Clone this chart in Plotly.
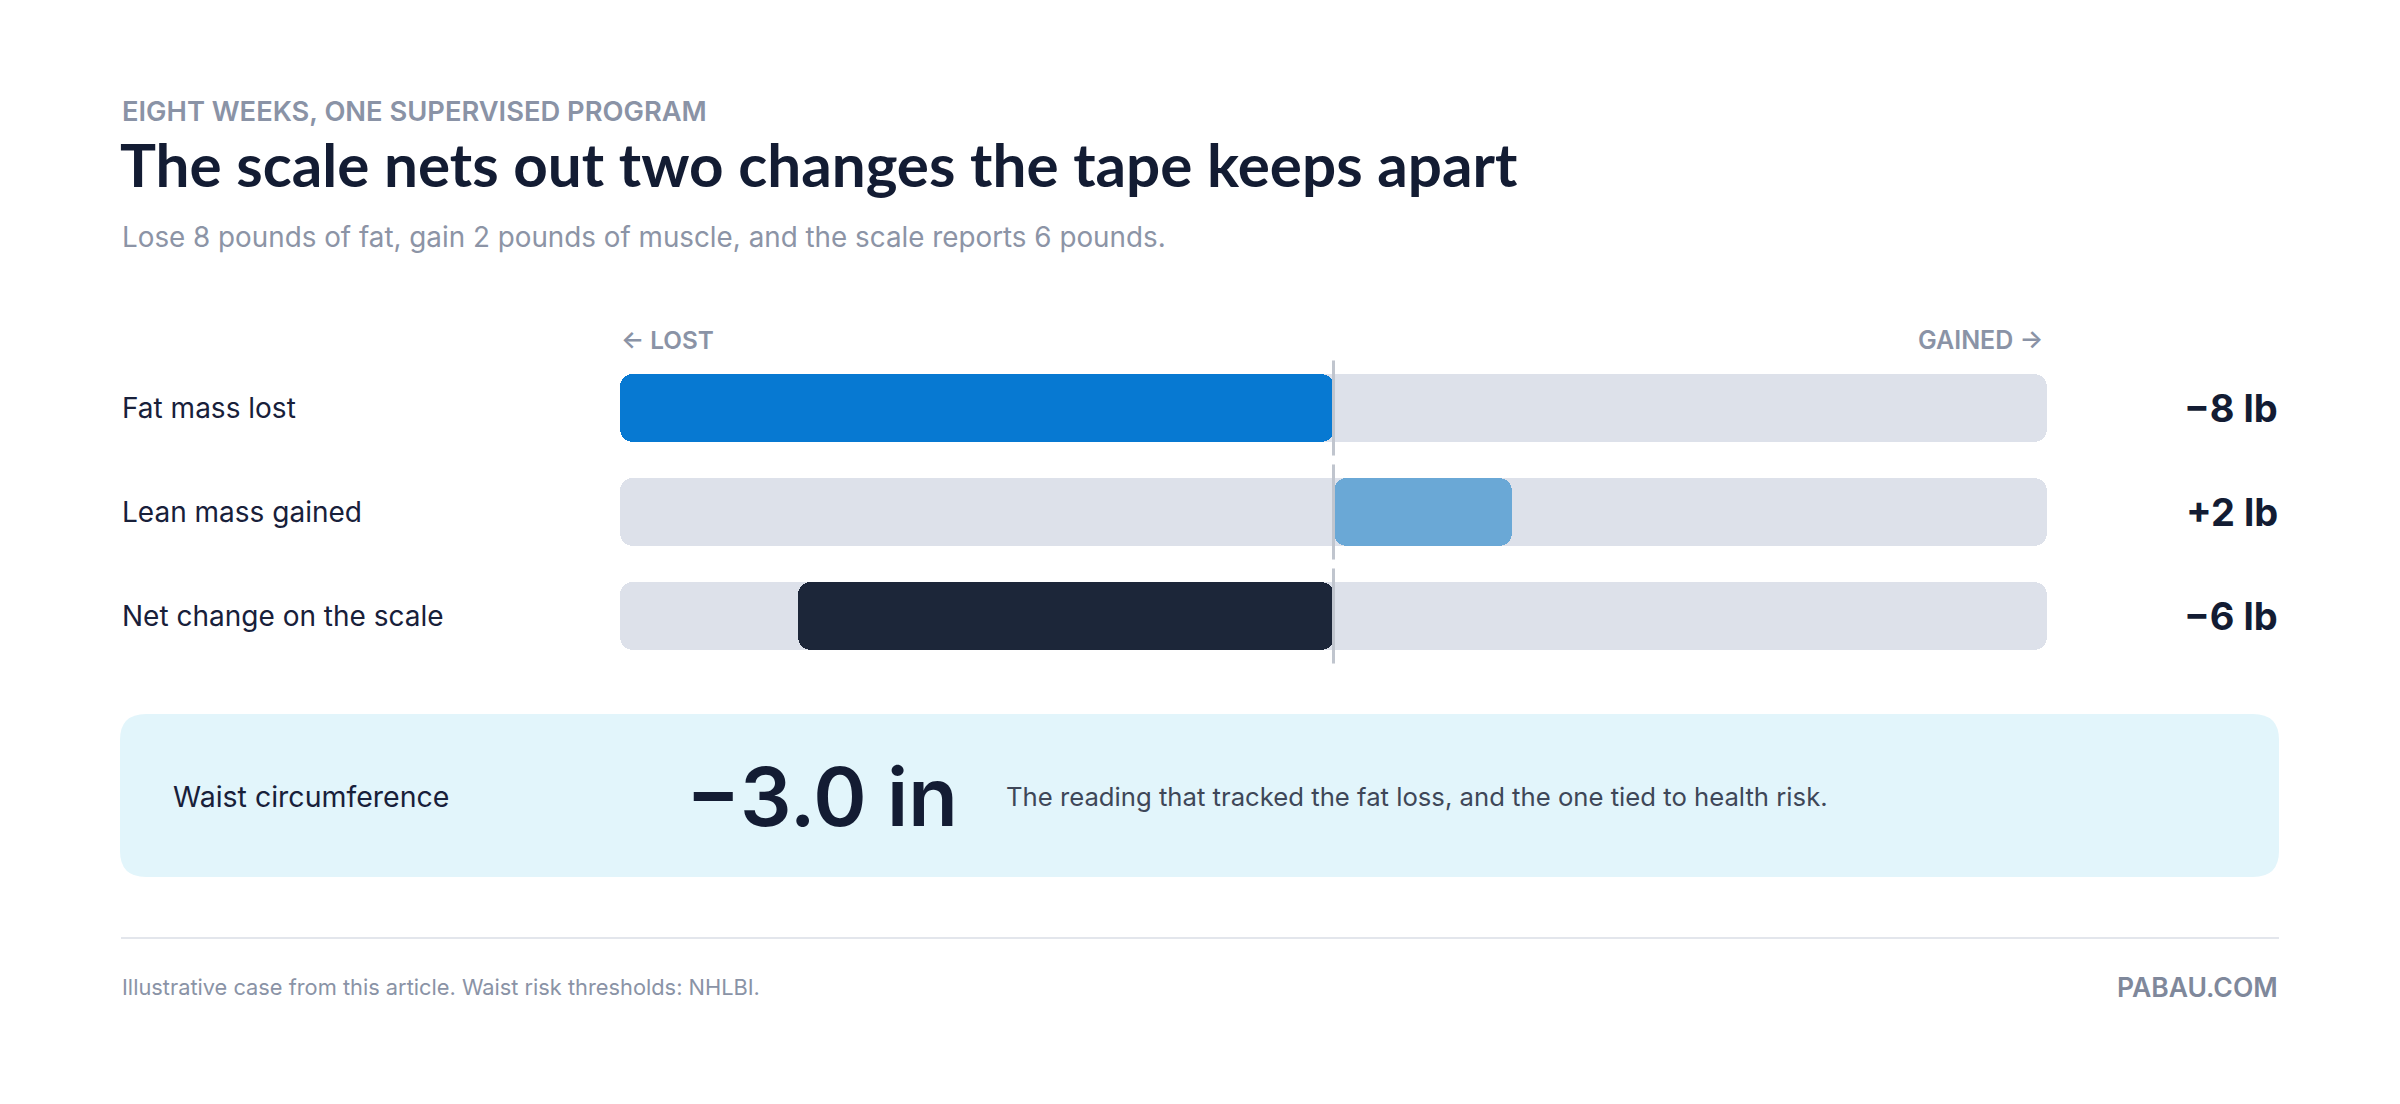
import plotly.graph_objects as go

# ---------------- data ----------------
eyebrow = "EIGHT WEEKS, ONE SUPERVISED PROGRAM"
title = "The scale nets out two changes the tape keeps apart"
subtitle = "Lose 8 pounds of fat, gain 2 pounds of muscle, and the scale reports 6 pounds."
categories = ["Fat mass lost", "Lean mass gained", "Net change on the scale"]
changes_lb = [-8, 2, -6]
scale_max = 8
dir_left = "← LOST"
dir_right = "GAINED →"
waist_label = "Waist circumference"
waist_change_in = -3.0
waist_note = "The reading that tracked the fat loss, and the one tied to health risk."
footer_note = "Illustrative case from this article. Waist risk thresholds: NHLBI."
brand = "PABAU.COM"

# ---------------- style ----------------
W, H = 2400, 1104
bar_colors = ["#0779D2", "#6AA8D6", "#1C2639"]
TRACK = "#DDE1EA"
NAVY = "#131C33"
GREY = "#8A93A6"
BODY = "Inter, 'Open Sans', sans-serif"
TITLE_FONT = "Lato, Inter, sans-serif"

def px(x):
    return x / W

def py(y):
    return 1 - y / H

def fmt_lb(v):
    sign = "+" if v > 0 else "\u2212"
    return f"{sign}{abs(v)} lb"

def fmt_in(v):
    sign = "+" if v > 0 else "\u2212"
    return f"{sign}{abs(v):.1f} in"

n = len(categories)
ypos = list(range(n))
bar_w = 0.654

fig = go.Figure()
# background tracks: floating bars from -scale_max to +scale_max
fig.add_trace(go.Bar(
    y=ypos, x=[2 * scale_max] * n, base=[-scale_max] * n, orientation="h",
    width=bar_w, marker=dict(color=TRACK, cornerradius=13, line=dict(width=0)),
    hoverinfo="skip", showlegend=False))
# value bars: floating bars from min(0, v) to max(0, v)
starts = [min(0, v) for v in changes_lb]
lengths = [abs(v) for v in changes_lb]
fig.add_trace(go.Bar(
    y=ypos, x=lengths, base=starts, orientation="h",
    width=bar_w, marker=dict(color=bar_colors, cornerradius=13, line=dict(width=0)),
    hoverinfo="skip", showlegend=False))

shapes = []
for i in ypos:
    shapes.append(dict(type="line", xref="x", yref="y", x0=0, x1=0,
                       y0=i - 0.457, y1=i + 0.457,
                       line=dict(color="#C0C5CE", width=3), layer="above"))

# waist callout box (rounded rectangle)
bx0, bx1, by0, by1, r = 120, 2279, 714, 877, 26
rx, ry = r / W, r / H
X0, X1, Y0, Y1 = px(bx0), px(bx1), py(by0), py(by1)
path = (f"M {X0+rx},{Y0} L {X1-rx},{Y0} Q {X1},{Y0} {X1},{Y0-ry} "
        f"L {X1},{Y1+ry} Q {X1},{Y1} {X1-rx},{Y1} L {X0+rx},{Y1} "
        f"Q {X0},{Y1} {X0},{Y1+ry} L {X0},{Y0-ry} Q {X0},{Y0} {X0+rx},{Y0} Z")
shapes.append(dict(type="path", xref="paper", yref="paper", path=path,
                   fillcolor="#E2F5FB", line=dict(width=0), layer="below"))
# footer separator
shapes.append(dict(type="line", xref="paper", yref="paper",
                   x0=px(121), x1=px(2279), y0=py(938), y1=py(938),
                   line=dict(color="#E3E6EC", width=2)))

ann = []
def add(text, x, y, size, color, anchor="left", family=BODY, weight=400, xref="paper", yref="paper"):
    ann.append(dict(text=text, x=x, y=y, xref=xref, yref=yref, xanchor=anchor,
                    yanchor="middle", showarrow=False,
                    font=dict(family=family, size=size, color=color, weight=weight)))

add(eyebrow, px(120), py(111.5), 27.3, GREY, weight=600)
add(title, px(118), py(164.5), 60.2, NAVY, family=TITLE_FONT, weight=700)
add(subtitle, px(120), py(237), 27.8, "#8C94A6")
add(dir_left, px(619), py(340), 24.3, GREY, weight=600)
add(dir_right, px(2045), py(340), 25, GREY, anchor="right", weight=600)

for i, (c, v) in enumerate(zip(categories, changes_lb)):
    add(c, px(120), i, 28, "#18203A", yref="y")
    add(fmt_lb(v), px(2280), i, 38, NAVY, anchor="right", weight=700, yref="y")

add(waist_label, px(171), py(796), 28.5, "#18203A")
add(fmt_in(waist_change_in), px(684), py(797), 81, NAVY, weight=600)
add(waist_note, px(1004), py(796), 25.7, "#3E4758")

add(footer_note, px(120), py(987), 21.8, GREY)
add(brand, px(2280), py(987), 26.5, "#7F889B", anchor="right", weight=600)

fig.update_layout(
    width=W, height=H,
    margin=dict(l=0, r=0, t=0, b=0, pad=0),
    paper_bgcolor="white", plot_bgcolor="white",
    barmode="overlay", bargap=0,
    xaxis=dict(range=[-scale_max, scale_max], domain=[px(620), px(2047)],
               visible=False, fixedrange=True),
    yaxis=dict(range=[n - 0.5, -0.5], domain=[py(668), py(356)],
               visible=False, fixedrange=True),
    shapes=shapes, annotations=ann, showlegend=False,
)

fig.write_html("out.html", config={"displayModeBar": False},
               post_script="document.body.style.margin='0';")
